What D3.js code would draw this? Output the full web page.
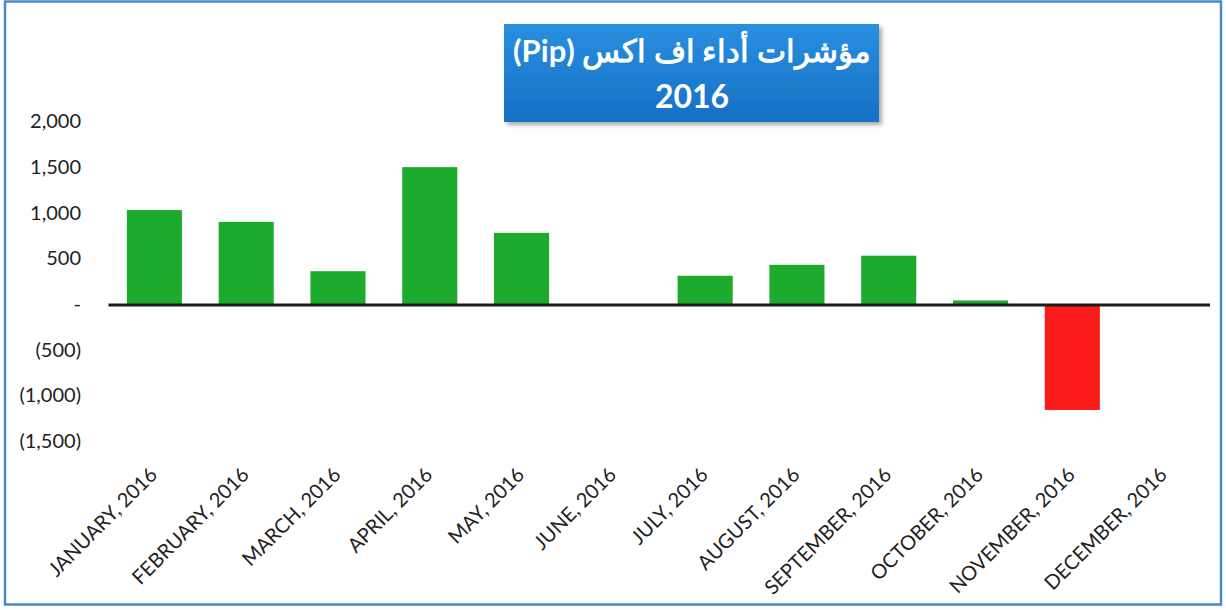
<!DOCTYPE html>
<html><head><meta charset="utf-8">
<script src="https://cdn.jsdelivr.net/npm/d3@7"></script>
<style>
html,body{margin:0;padding:0;background:#fff;}
svg text{font-family:Lato,"Open Sans","Liberation Sans",sans-serif;}
</style></head>
<body>
<svg id="c" width="1226" height="610"></svg>
<script>
const months = ["JANUARY, 2016","FEBRUARY, 2016","MARCH, 2016","APRIL, 2016","MAY, 2016","JUNE, 2016","JULY, 2016","AUGUST, 2016","SEPTEMBER, 2016","OCTOBER, 2016","NOVEMBER, 2016","DECEMBER, 2016"];
const pips = [1030, 900, 360, 1500, 780, -10, 310, 430, 530, 40, -1160, 0];
const yTicks = [2000, 1500, 1000, 500, 0, -500, -1000, -1500];
const titleLine1 = "مؤشرات أداء اف اكس (Pip)";
const titleLine2 = "2016";

const svg = d3.select("#c");
const defs = svg.append("defs");
const g1 = defs.append("linearGradient").attr("id","tg").attr("x1",0).attr("y1",0).attr("x2",0).attr("y2",1);
g1.append("stop").attr("offset","0%").attr("stop-color","#2a8fe0");
g1.append("stop").attr("offset","100%").attr("stop-color","#1570c4");
const f = defs.append("filter").attr("id","sh").attr("x","-10%").attr("y","-10%").attr("width","130%").attr("height","140%");
f.append("feDropShadow").attr("dx",3).attr("dy",3).attr("stdDeviation",2).attr("flood-color","#555").attr("flood-opacity",0.5);

// outer border
svg.append("rect").attr("x",5).attr("y",1.5).attr("width",1216).attr("height",603)
  .attr("fill","#fff").attr("stroke","#4a8ac6").attr("stroke-width",2.5);

const x = d3.scaleBand().domain(months).range([108.5, 1210]).paddingInner(0.4).paddingOuter(0.2);
const y = d3.scaleLinear().domain([-1500, 2000]).range([441, 121.5]);

// y axis labels
const fmt = v => v === 0 ? "-" : (v < 0 ? "(" + d3.format(",")(-v) + ")" : d3.format(",")(v));
const yAxis = d3.axisLeft(y).tickValues(yTicks).tickFormat(fmt).tickSize(0).tickPadding(0);
const ya = svg.append("g").attr("transform","translate(81,0)").call(yAxis);
ya.select(".domain").remove();
ya.selectAll("text").attr("font-size",20).attr("fill","#222").attr("font-family","Lato,'Open Sans',sans-serif");

// bars
svg.append("g").selectAll("rect").data(pips).join("rect")
  .attr("x",(d,i)=>x(months[i]))
  .attr("width",x.bandwidth())
  .attr("y",d=>y(Math.max(0,d)))
  .attr("height",d=>Math.max(Math.abs(y(d)-y(0)), d===0?0:2))
  .attr("fill",d=>d<0 ? (d < -100 ? "#fb1b1b" : "#1a9f30") : "#1cab2c");

// zero line
svg.append("line").attr("x1",108.5).attr("x2",1210).attr("y1",y(0)+1).attr("y2",y(0)+1)
  .attr("stroke","#1a1a1a").attr("stroke-width",3);

// x labels
const xa = svg.append("g");
xa.selectAll("text").data(months).join("text")
  .attr("transform",d=>`translate(${x(d)+x.bandwidth()/2+4},${476}) rotate(-45)`)
  .attr("text-anchor","end")
  .attr("font-size",20)
  .attr("fill","#222")
  .text(d=>d);

// title box
svg.append("rect").attr("x",504).attr("y",24).attr("width",375).attr("height",98)
  .attr("fill","url(#tg)").attr("filter","url(#sh)");
svg.append("text").attr("x",692).attr("y",62).attr("text-anchor","middle")
  .attr("font-size",31).attr("font-weight","bold").attr("fill","#fff")
  .attr("font-family","'DejaVu Sans','Noto Sans',sans-serif")
  .attr("direction","rtl").text(titleLine1);
svg.append("text").attr("x",692).attr("y",108).attr("text-anchor","middle")
  .attr("font-size",32).attr("font-weight","bold").attr("fill","#fff")
  .attr("font-family","'Open Sans',sans-serif")
  .text(titleLine2);
</script>
</body></html>
